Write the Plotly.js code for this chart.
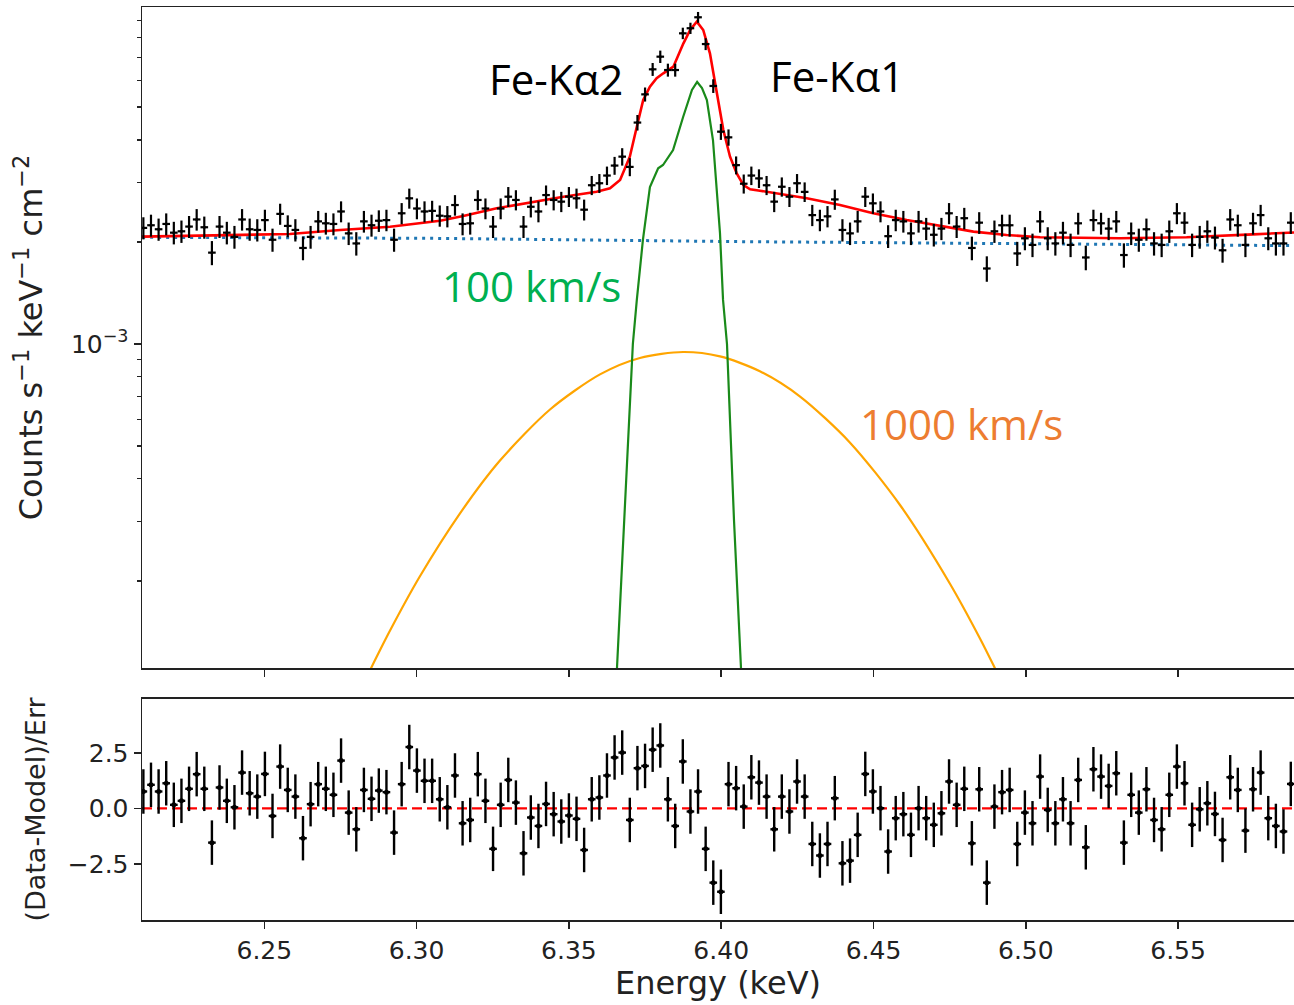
<!DOCTYPE html>
<html>
<head>
<meta charset="utf-8">
<script src="https://cdn.plot.ly/plotly-3.0.1.min.js"></script>
<style>
html, body { margin: 0; padding: 0; overflow: hidden; background: #fff; }
#chart { width: 1294px; height: 1005px; }
</style>
</head>
<body>
<div id="chart"></div>
<script>
// ---- Data ----
const energy = [
6.2103,6.2128,6.2153,6.2178,6.2203,6.2228,6.2253,6.2278,6.2303,6.2328,
6.2353,6.2377,6.2402,6.2427,6.2452,6.2477,6.2502,6.2527,6.2552,6.2577,
6.2602,6.2627,6.2652,6.2677,6.2702,6.2727,6.2752,6.2777,6.2802,6.2827,
6.2852,6.2876,6.2901,6.2926,6.2951,6.2976,6.3001,6.3026,6.3051,6.3076,
6.3101,6.3126,6.3151,6.3176,6.3201,6.3226,6.3251,6.3276,6.3301,6.3326,
6.3351,6.3375,6.3400,6.3425,6.3450,6.3475,6.3500,6.3525,6.3550,6.3575,
6.3600,6.3625,6.3650,6.3675,6.3700,6.3725,6.3750,6.3775,6.3800,6.3825,
6.3849,6.3874,6.3899,6.3924,6.3949,6.3974,6.3999,6.4024,6.4049,6.4074,
6.4099,6.4124,6.4149,6.4174,6.4199,6.4224,6.4249,6.4274,6.4299,6.4324,
6.4349,6.4373,6.4398,6.4423,6.4448,6.4473,6.4498,6.4523,6.4548,6.4573,
6.4598,6.4623,6.4648,6.4673,6.4698,6.4723,6.4748,6.4773,6.4798,6.4823,
6.4847,6.4872,6.4897,6.4922,6.4947,6.4972,6.4997,6.5022,6.5047,6.5072,
6.5097,6.5122,6.5147,6.5172,6.5197,6.5222,6.5247,6.5272,6.5297,6.5322,
6.5346,6.5371,6.5396,6.5421,6.5446,6.5471,6.5496,6.5521,6.5546,6.5571,
6.5596,6.5621,6.5646,6.5671,6.5696,6.5721,6.5746,6.5771,6.5796,6.5821,
6.5846,6.5870];

const counts = [
0.00220,0.00224,0.00218,0.00226,0.00213,0.00215,0.00222,0.00233,0.00221,0.00186,
0.00222,0.00213,0.00207,0.00233,0.00218,0.00217,0.00232,0.00203,0.00242,0.00223,
0.00217,0.00192,0.00207,0.00230,0.00227,0.00226,0.00246,0.00212,0.00198,0.00230,
0.00224,0.00231,0.00232,0.00203,0.00243,0.00269,0.00251,0.00246,0.00247,0.00239,
0.00238,0.00257,0.00226,0.00227,0.00266,0.00251,0.00222,0.00251,0.00272,0.00266,
0.00222,0.00254,0.00246,0.00275,0.00266,0.00263,0.00272,0.00269,0.00249,0.00294,
0.00298,0.00314,0.00336,0.00357,0.00333,0.00450,0.00545,0.00646,0.00704,0.00643,
0.00643,0.00825,0.00854,0.00920,0.00767,0.00577,0.00423,0.00407,0.00337,0.00297,
0.00314,0.00308,0.00294,0.00263,0.00291,0.00272,0.00298,0.00281,0.00240,0.00232,
0.00238,0.00267,0.00217,0.00212,0.00230,0.00272,0.00260,0.00246,0.00208,0.00232,
0.00230,0.00212,0.00230,0.00219,0.00210,0.00219,0.00243,0.00222,0.00235,0.00192,
0.00228,0.00167,0.00215,0.00224,0.00224,0.00185,0.00205,0.00196,0.00230,0.00205,
0.00198,0.00213,0.00196,0.00227,0.00180,0.00232,0.00227,0.00219,0.00230,0.00183,
0.00212,0.00203,0.00218,0.00198,0.00196,0.00215,0.00243,0.00228,0.00196,0.00207,
0.00215,0.00206,0.00189,0.00233,0.00224,0.00196,0.00227,0.00240,0.00205,0.00198,
0.00198,0.00228];

const countErr = [
0.000165,0.000167,0.000164,0.000168,0.000163,0.000163,0.000166,0.000170,0.000166,0.000152,
0.000166,0.000163,0.000160,0.000170,0.000164,0.000164,0.000169,0.000159,0.000173,0.000166,
0.000164,0.000154,0.000160,0.000169,0.000168,0.000168,0.000175,0.000162,0.000157,0.000169,
0.000167,0.000169,0.000169,0.000159,0.000174,0.000183,0.000177,0.000175,0.000175,0.000172,
0.000172,0.000179,0.000168,0.000168,0.000182,0.000177,0.000166,0.000177,0.000184,0.000182,
0.000166,0.000178,0.000175,0.000185,0.000182,0.000181,0.000184,0.000183,0.000176,0.000191,
0.000192,0.000197,0.000204,0.000211,0.000204,0.000237,0.000260,0.000283,0.000296,0.000283,
0.000283,0.000321,0.000326,0.000338,0.000309,0.000268,0.000230,0.000225,0.000205,0.000192,
0.000197,0.000195,0.000191,0.000181,0.000190,0.000184,0.000192,0.000187,0.000173,0.000169,
0.000172,0.000182,0.000164,0.000162,0.000169,0.000184,0.000180,0.000175,0.000161,0.000169,
0.000169,0.000162,0.000169,0.000165,0.000161,0.000165,0.000174,0.000166,0.000171,0.000154,
0.000168,0.000144,0.000163,0.000167,0.000167,0.000151,0.000160,0.000156,0.000169,0.000160,
0.000157,0.000163,0.000156,0.000168,0.000150,0.000169,0.000168,0.000165,0.000169,0.000151,
0.000162,0.000159,0.000164,0.000157,0.000156,0.000163,0.000174,0.000168,0.000156,0.000160,
0.000163,0.000160,0.000153,0.000170,0.000167,0.000156,0.000168,0.000173,0.000160,0.000157,
0.000157,0.000168];

const residual = [
0.76,1.06,0.76,1.13,0.16,0.34,0.88,1.54,0.88,-1.54,
0.94,0.34,0.05,1.61,0.68,0.53,1.55,-0.34,1.88,0.83,
0.53,-1.34,0.19,1.09,0.88,0.61,2.15,-0.19,-0.94,0.83,
0.43,0.80,0.73,-1.09,1.09,2.76,1.70,1.24,1.24,0.41,
0.05,1.48,-0.67,-0.52,1.54,0.34,-1.82,0.16,1.28,0.26,
-2.02,-0.41,-0.79,0.20,-0.26,-0.59,-0.32,-0.47,-1.87,0.41,
0.49,1.48,2.29,2.51,-0.52,1.81,1.91,2.64,2.83,0.41,
-0.79,2.11,-0.14,0.76,-1.82,-3.34,-3.75,1.09,0.91,0.08,
1.40,1.16,0.53,-0.94,0.53,-0.14,1.21,0.53,-1.60,-2.12,
-1.60,0.46,-2.47,-2.35,-1.19,1.55,0.76,0.01,-1.94,-0.44,
-0.26,-1.19,0.01,-0.44,-0.74,-0.22,1.21,0.16,0.88,-1.57,
0.86,-3.34,0.08,0.73,0.83,-1.60,-0.19,-0.67,1.43,-0.07,
-0.67,0.41,-0.67,1.28,-1.75,1.76,1.43,1.01,1.58,-1.54,
0.61,-0.19,0.86,-0.52,-0.94,0.61,1.88,1.13,-0.74,-0.04,
0.23,-0.25,-1.42,1.40,0.83,-1.00,0.86,1.61,-0.44,-0.79,
-1.04,1.10];

// total model (red)
const modelE = [6.2099,6.2420,6.2584,6.2749,6.2913,6.3077,6.3153,6.3263,6.3372,6.3482,
6.3591,6.3635,6.3668,6.3700,6.3723,6.3744,6.3766,6.3788,6.3810,6.3843,
6.3876,6.3898,6.3920,6.3941,6.3963,6.3985,6.4007,6.4029,6.4051,6.4073,
6.4095,6.4127,6.4171,6.4281,6.4390,6.4499,6.4609,6.4718,6.4828,6.4937,
6.5047,6.5309,6.5528,6.5746,6.5890];
const modelV = [0.002073,0.002097,0.002111,0.002170,0.002218,0.002311,0.002386,0.002514,0.002618,0.002720,
0.002814,0.002880,0.003046,0.003568,0.004375,0.005245,0.005741,0.006078,0.006288,0.006577,
0.007709,0.008439,0.008927,0.008439,0.007204,0.005489,0.004278,0.003568,0.003187,0.002944,
0.002860,0.002833,0.002795,0.002691,0.002570,0.002430,0.002322,0.002229,0.002145,0.002097,
0.002064,0.002050,0.002064,0.002106,0.002135];

// continuum (blue dotted)
const contE = [6.2099,6.3050,6.4070,6.5050,6.5890];
const contV = [0.002064,0.002050,0.002004,0.001970,0.001950];

// 100 km/s line (green)
const greenE = [6.3648,6.3658,6.3684,6.3710,6.3723,6.3743,6.3766,6.3793,6.3809,6.3842,
6.3875,6.3904,6.3921,6.3937,6.3953,6.3973,6.3996,6.4006,6.4019,6.4042,6.4065,6.4074];
const greenV = [0.000073,0.0001107,0.0003467,0.001000,0.001349,0.002027,0.002905,0.003298,0.003373,0.003735,
0.004673,0.005615,0.005929,0.005691,0.005245,0.003997,0.002125,0.001349,0.001000,0.0003027,0.0001107,0.000073];

// 1000 km/s line (orange)
const orangeE = [6.2814,6.2850,6.2912,6.3010,6.3142,6.3273,6.3438,6.3602,6.3733,6.3875,
6.3996,6.4127,6.4259,6.4423,6.4587,6.4751,6.4850,6.4899,6.4932];
const orangeV = [0.0000947,0.0001104,0.0001423,0.0002057,0.0003160,0.0004523,0.0006409,0.0008134,0.0009094,0.000947,
0.000919,0.0008308,0.0006998,0.0005117,0.0003350,0.0001963,0.0001351,0.0001104,0.000096];

const zeroE = [6.20985, 6.58805];
const zeroV = [0, 0];

const xTicks = [6.25, 6.30, 6.35, 6.40, 6.45, 6.50, 6.55];
const xTickText = ["6.25", "6.30", "6.35", "6.40", "6.45", "6.50", "6.55"];
const yTopTicks = [0.001];
const yTopTickText = ["10<sup>−3</sup>"];
const yTopMinor = [0.0002,0.0003,0.0004,0.0005,0.0006,0.0007,0.0008,0.0009,
                   0.002,0.003,0.004,0.005,0.006,0.007,0.008,0.009];
const yResTicks = [-2.5, 0, 2.5];
const yResTickText = ["−2.5", "0.0", "2.5"];

// ---- Traces ----
const halfBin = 0.00125;
const traces = [
  { x: contE, y: contV, xaxis: 'x', yaxis: 'y', mode: 'lines',
    line: { color: '#1f77b4', width: 3, dash: '3px,5px' }, hoverinfo: 'skip' },
  { x: orangeE, y: orangeV, xaxis: 'x', yaxis: 'y', mode: 'lines',
    line: { color: '#ffa500', width: 2.2, shape: 'spline', smoothing: 0.8 }, hoverinfo: 'skip' },
  { x: greenE, y: greenV, xaxis: 'x', yaxis: 'y', mode: 'lines',
    line: { color: '#1a8a1a', width: 2.2 }, hoverinfo: 'skip' },
  { x: modelE, y: modelV, xaxis: 'x', yaxis: 'y', mode: 'lines',
    line: { color: '#ff0000', width: 2.6 }, hoverinfo: 'skip' },
  { x: energy, y: counts, xaxis: 'x', yaxis: 'y', mode: 'markers',
    marker: { color: '#000', size: 3 },
    error_y: { type: 'data', array: countErr, visible: true, color: '#000', thickness: 2.2, width: 0 },
    error_x: { type: 'constant', value: halfBin, visible: true, color: '#000', thickness: 2.2, width: 0 } },
  { x: zeroE, y: zeroV, xaxis: 'x2', yaxis: 'y2', mode: 'lines',
    line: { color: '#ff0000', width: 2.2, dash: '10px,5px' }, hoverinfo: 'skip' },
  { x: energy, y: residual, xaxis: 'x2', yaxis: 'y2', mode: 'markers',
    marker: { color: '#000', size: 5 },
    error_y: { type: 'constant', value: 1, visible: true, color: '#000', thickness: 2.4, width: 0 },
    error_x: { type: 'constant', value: halfBin, visible: true, color: '#000', thickness: 2.4, width: 0 } }
];

const xLine = { showline: true, linecolor: '#222', linewidth: 1.5, mirror: true,
  showgrid: false, zeroline: false, ticks: 'outside', ticklen: 7, tickwidth: 1.5, tickcolor: '#222' };
const yLine = { showline: true, linecolor: '#222', linewidth: 1.5, mirror: false,
  showgrid: false, zeroline: false, ticks: 'outside', ticklen: 7, tickwidth: 1.5, tickcolor: '#222' };
const tickFont = { family: 'DejaVu Sans', size: 25, color: '#222' };

const layout = {
  width: 1294, height: 1005,
  margin: { l: 142, r: 0, t: 7, b: 85 },
  paper_bgcolor: '#fff', plot_bgcolor: '#fff',
  showlegend: false,
  xaxis: Object.assign({}, xLine, {
    domain: [0, 1], anchor: 'y', range: [6.20985, 6.58805],
    tickmode: 'array', tickvals: xTicks, ticktext: xTickText, showticklabels: false
  }),
  yaxis: Object.assign({}, yLine, {
    domain: [0.27601, 1], anchor: 'x', type: 'log', range: [-3.9558, -2.0059],
    tickmode: 'array', tickvals: yTopTicks, ticktext: yTopTickText, tickfont: tickFont,
    minor: { tickmode: 'array', tickvals: yTopMinor, ticks: 'outside', ticklen: 4, tickwidth: 1.2, tickcolor: '#222' },
    title: { text: 'Counts s<sup>−1</sup> keV<sup>−1</sup> cm<sup>−2</sup>',
             font: { family: 'DejaVu Sans', size: 32, color: '#222' }, standoff: 18 }
  }),
  xaxis2: Object.assign({}, xLine, {
    domain: [0, 1], anchor: 'y2', range: [6.20985, 6.58805],
    tickmode: 'array', tickvals: xTicks, ticktext: xTickText, tickfont: tickFont,
    title: { text: 'Energy (keV)', font: { family: 'DejaVu Sans', size: 32, color: '#222' }, standoff: 6 }
  }),
  yaxis2: Object.assign({}, yLine, {
    domain: [0, 0.24206], anchor: 'x2', range: [-5.02, 4.92],
    tickmode: 'array', tickvals: yResTicks, ticktext: yResTickText, tickfont: tickFont,
    title: { text: '(Data-Model)/Err', font: { family: 'DejaVu Sans', size: 27, color: '#222' }, standoff: 14 }
  }),
  annotations: [
    { text: 'Fe-Kα2', xref: 'paper', yref: 'paper', x: 0.3594, y: 0.9222, showarrow: false,
      xanchor: 'center', yanchor: 'middle', font: { family: 'Open Sans', size: 42, color: '#000' } },
    { text: 'Fe-Kα1', xref: 'paper', yref: 'paper', x: 0.6033, y: 0.9255, showarrow: false,
      xanchor: 'center', yanchor: 'middle', font: { family: 'Open Sans', size: 42, color: '#000' } },
    { text: '100 km/s', xref: 'paper', yref: 'paper', x: 0.3385, y: 0.6945, showarrow: false,
      xanchor: 'center', yanchor: 'middle', font: { family: 'Open Sans', size: 42, color: '#00b050' } },
    { text: '1000 km/s', xref: 'paper', yref: 'paper', x: 0.7118, y: 0.5440, showarrow: false,
      xanchor: 'center', yanchor: 'middle', font: { family: 'Open Sans', size: 42, color: '#ed7d31' } }
  ]
};

Plotly.newPlot('chart', traces, layout, { staticPlot: true, displayModeBar: false });
</script>
</body>
</html>
